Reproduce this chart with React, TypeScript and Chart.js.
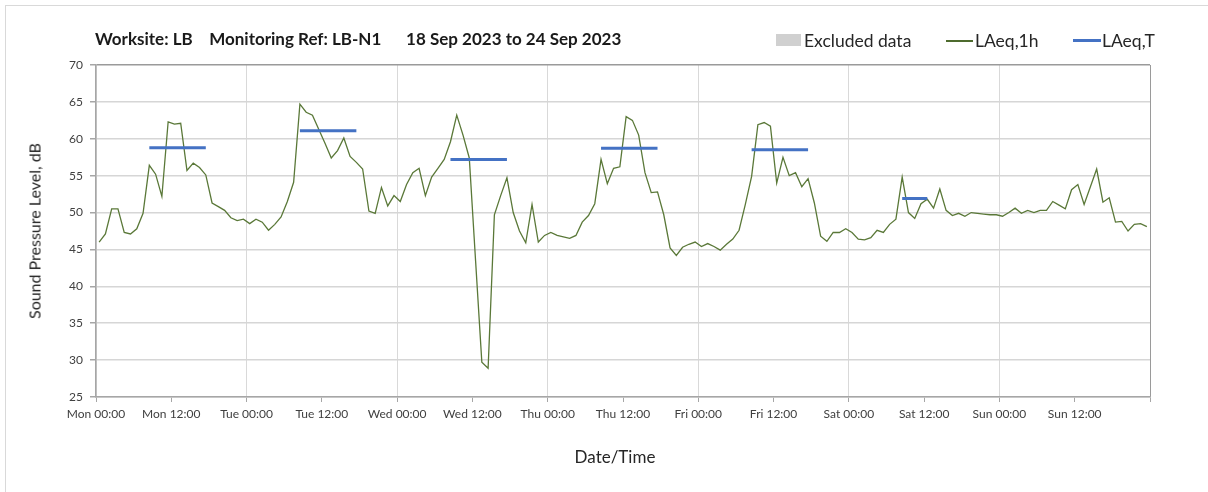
import { useEffect, useRef } from "react";
import { Chart, registerables } from "chart.js";

Chart.register(...registerables);

const W = 1208;
const H = 492;

// X tick labels, one every 12 hours (Mon 00:00 ... Sun 12:00, end of week unlabelled)
const tickLabels = [
  "Mon 00:00", "Mon 12:00", "Tue 00:00", "Tue 12:00", "Wed 00:00", "Wed 12:00",
  "Thu 00:00", "Thu 12:00", "Fri 00:00", "Fri 12:00", "Sat 00:00", "Sat 12:00",
  "Sun 00:00", "Sun 12:00", "",
];

// Hourly LAeq,1h values, hour 0 = Mon 00:00
const laeq1h = [
  46.0, 47.1, 50.5, 50.5, 47.3, 47.1, 47.8, 49.9, 56.4, 55.2, 52.2, 62.3, 62.0, 62.1, 55.7, 56.7, 56.1, 55.1, 51.3, 50.8, 50.3, 49.3, 48.9, 49.1,
  48.5, 49.1, 48.7, 47.6, 48.4, 49.4, 51.5, 54.1, 64.7, 63.6, 63.2, 61.3, 59.4, 57.4, 58.4, 60.1, 57.6, 56.8, 55.9, 50.2, 49.9, 53.4, 50.9, 52.3,
  51.5, 53.8, 55.4, 56.0, 52.3, 54.8, 56.0, 57.2, 59.6, 63.2, 60.5, 57.4, 43.5, 29.7, 28.9, 49.7, 52.3, 54.7, 50.0, 47.5, 45.9, 51.1, 46.0, 46.9,
  47.3, 46.9, 46.7, 46.5, 46.9, 48.7, 49.6, 51.2, 57.2, 53.9, 56.0, 56.2, 63.0, 62.5, 60.5, 55.4, 52.7, 52.8, 49.7, 45.2, 44.2, 45.3, 45.7, 46.0,
  45.4, 45.8, 45.4, 44.9, 45.7, 46.4, 47.6, 51.1, 54.9, 61.9, 62.2, 61.7, 54.0, 57.5, 55.0, 55.4, 53.5, 54.6, 51.3, 46.8, 46.1, 47.3, 47.3, 47.8,
  47.3, 46.4, 46.3, 46.6, 47.6, 47.3, 48.4, 49.1, 54.8, 50.0, 49.2, 51.2, 51.8, 50.6, 53.2, 50.3, 49.6, 49.9, 49.5, 50.0, 49.9, 49.8, 49.7, 49.7,
  49.5, 50.0, 50.6, 49.9, 50.3, 50.0, 50.3, 50.3, 51.5, 51.0, 50.5, 53.1, 53.8, 51.1, 53.5, 55.9, 51.4, 52.0, 48.7, 48.8, 47.5, 48.4, 48.5, 48.1,
];

// LAeq,T working-period averages (start / end hour of period)
const periodStart = [8, 32, 56, 80, 104, 128];
const periodEnd = [17, 41, 65, 89, 113, 132];
const laeqT = [58.8, 61.1, 57.2, 58.7, 58.5, 51.9];

const yMin = 25;
const yMax = 70;
const yStep = 5;
const hoursInWeek = 168;

const FONT = "Lato, 'Open Sans', sans-serif";

export default function App() {
  const ref = useRef<HTMLCanvasElement | null>(null);

  useEffect(() => {
    if (!ref.current) return;
    const lineData = laeq1h.map((v, i) => ({ x: i + 0.5, y: v }));
    const tData: { x: number; y: number | null }[] = [];
    laeqT.forEach((v, k) => {
      tData.push({ x: periodStart[k] + 0.5, y: v });
      tData.push({ x: periodEnd[k] + 0.5, y: v });
      tData.push({ x: periodEnd[k] + 1, y: null });
    });

    const chart = new Chart(ref.current, {
      type: "line",
      data: {
        datasets: [
          {
            label: "LAeq,T",
            data: tData as any,
            borderColor: "#4472c4",
            borderWidth: 3,
            borderCapStyle: "butt",
            pointRadius: 0,
            spanGaps: false,
            tension: 0,
          },
          {
            label: "LAeq,1h",
            data: lineData,
            borderColor: "#5a7838",
            borderWidth: 1.3,
            pointRadius: 0,
            tension: 0,
          },
        ],
      },
      options: {
        responsive: false,
        animation: false,
        events: [],
        layout: { padding: { left: 0, right: W - 1150, top: 65, bottom: 0 } },
        plugins: {
          legend: { display: false },
          title: { display: false },
          tooltip: { enabled: false },
        },
        scales: {
          x: {
            type: "linear",
            min: 0,
            max: hoursInWeek,
            afterFit: (s: any) => {
              s.height = H - 397;
            },
            ticks: {
              stepSize: 12,
              autoSkip: false,
              maxRotation: 0,
              padding: 5,
              color: "#404040",
              font: { family: FONT, size: 12 },
              callback: (v: any) => tickLabels[Math.round(Number(v) / 12)] ?? "",
            },
            grid: {
              color: (ctx: any) => {
                const v = ctx.tick ? ctx.tick.value : 0;
                if (v === hoursInWeek) return "#9a9a9a";
                return v % 24 === 0 ? "#d9d9d9" : "rgba(0,0,0,0)";
              },
              tickColor: "#a6a6a6",
              tickLength: 5,
              lineWidth: 1,
            },
            border: { color: "#a6a6a6", width: 1.5 },
          },
          y: {
            min: yMin,
            max: yMax,
            afterFit: (s: any) => {
              s.width = 96;
            },
            ticks: {
              stepSize: yStep,
              padding: 7,
              color: "#404040",
              font: { family: FONT, size: 12 },
            },
            grid: {
              color: (ctx: any) => (ctx.tick && ctx.tick.value === yMax ? "#9a9a9a" : "#d6d6d6"),
              lineWidth: 1.5,
              tickColor: "#a6a6a6",
              tickLength: 6,
            },
            border: { color: "#a6a6a6", width: 1.5 },
          },
        },
      },
    });
    return () => chart.destroy();
  }, []);

  const text = { position: "absolute" as const, fontFamily: FONT, color: "#262626", whiteSpace: "nowrap" as const };

  return (
    <div style={{ position: "absolute", left: 0, top: 0, width: W, height: H, overflow: "hidden", background: "#fff" }}>
      <div style={{ position: "absolute", left: 5, top: 5, width: W + 20, height: H + 20, border: "1px solid #d9d9d9" }} />
      <canvas ref={ref} width={W} height={H} style={{ position: "absolute", left: 0, top: 0, width: W, height: H }} />
      <div style={{ ...text, left: 95, top: 38, fontSize: 17, fontWeight: 700, color: "#1a1a1a", transform: "translateY(-50%)" }}>
        Worksite: LB&nbsp;&nbsp;&nbsp;&nbsp;Monitoring Ref: LB-N1&nbsp;&nbsp;&nbsp;&nbsp;&nbsp;&nbsp;18 Sep 2023 to 24 Sep 2023
      </div>
      <div style={{ position: "absolute", left: 776, top: 34, width: 25, height: 12, background: "#d0d0d0" }} />
      <div style={{ ...text, left: 804, top: 40, fontSize: 17.5, transform: "translateY(-50%)" }}>Excluded data</div>
      <div style={{ position: "absolute", left: 946, top: 40, width: 27, height: 1.5, background: "#4e6b2e" }} />
      <div style={{ ...text, left: 975, top: 40, fontSize: 17.5, transform: "translateY(-50%)" }}>LAeq,1h</div>
      <div style={{ position: "absolute", left: 1073, top: 39, width: 28, height: 3, background: "#4472c4" }} />
      <div style={{ ...text, left: 1102, top: 40, fontSize: 17.5, transform: "translateY(-50%)" }}>LAeq,T</div>
      <div style={{ ...text, left: 615, top: 456, fontSize: 17, transform: "translate(-50%, -50%)" }}>Date/Time</div>
      <div style={{ ...text, left: 34, top: 231, fontSize: 16, transform: "translate(-50%, -50%) rotate(-90deg)" }}>
        Sound Pressure Level, dB
      </div>
    </div>
  );
}
